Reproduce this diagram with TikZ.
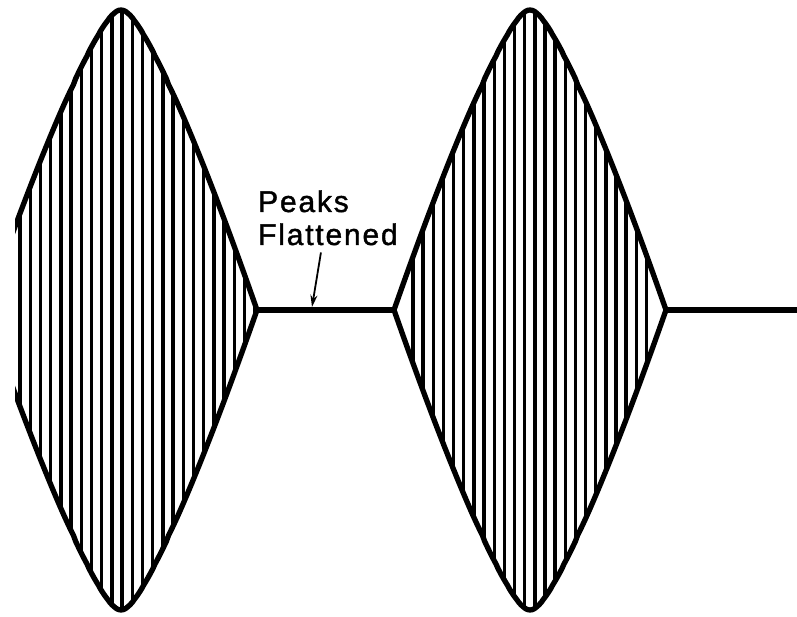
\documentclass[tikz,border=0pt]{standalone}
\usepackage{fontspec}
\newfontfamily\labfont[LetterSpace=6,FakeBold=1.3]{Liberation Sans}
\usetikzlibrary{arrows.meta}
\begin{document}
\begin{tikzpicture}[x=1pt,y=1pt,
  declare function={envh(\t)=300*(1.003996-exp(0.625*ln(\t*\t+0.0064)))/0.96146;},
  env/.style={line width=5.3pt, line join=round, line cap=butt},
  hatch/.style={line width=3.4pt},
  lab/.style={font=\labfont\fontsize{30}{34}\selectfont, inner sep=0pt, anchor=base west},
  lobe/.style={insert path={plot[domain=-1:1, samples=121] ({#1+136*\x},{307+envh(\x)})
     -- plot[domain=1:-1, samples=121] ({#1+136*\x},{307-envh(\x)}) -- cycle}}]
\useasboundingbox (0,0) rectangle (797,617);
\fill[white] (0,0) rectangle (797,617);
\coordinate (l1r) at (257,307);
\coordinate (l2l) at (394,307);
\coordinate (l2r) at (666,307);
\coordinate (rend) at (797,307);
% lobe 1 (cut at the left)
\begin{scope}
  \clip (15,0) rectangle (797,617);
  \begin{scope}
    \path[clip, lobe=121];
    \foreach \k in {0,...,23} \draw[hatch] ({20+10.2*\k},0) -- ({20+10.2*\k},617);
  \end{scope}
  \draw[env, lobe=121];
\end{scope}
% lobe 2
\begin{scope}
  \path[clip, lobe=530];
  \foreach \k in {0,...,23} \draw[hatch] ({413+10.15*\k},0) -- ({413+10.15*\k},617);
\end{scope}
\draw[env, lobe=530];
% flattened parts
\draw[env] (l1r) -- (l2l);
\draw[env] (l2r) -- (rend);
% label
\node[lab] (peaks) at (258,405) {Peaks};
\node[lab] (flat) at (258,372) {Flattened};
\coordinate (tip) at (312,310);
\draw[line width=1.8pt, -{Stealth[length=12pt,width=7pt]}] ([shift={(-7,-7)}]flat.south) -- (tip);
\end{tikzpicture}
\end{document}
